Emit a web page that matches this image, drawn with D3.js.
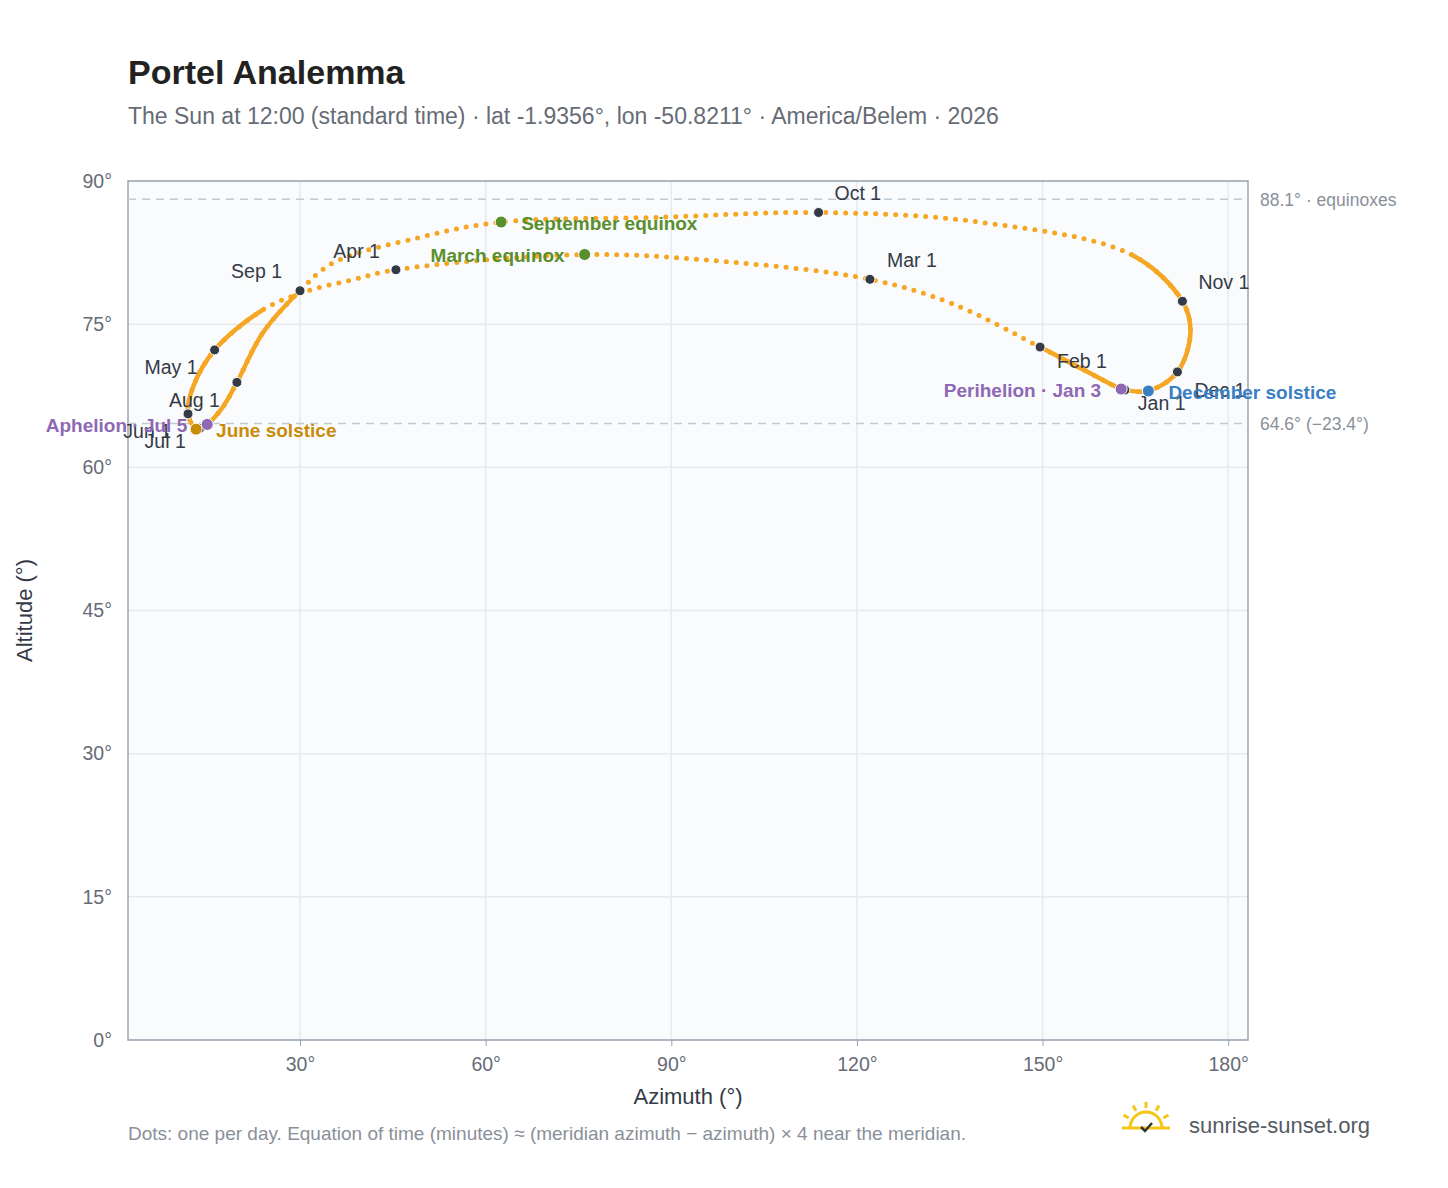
<!DOCTYPE html>
<html><head><meta charset="utf-8">
<script src="https://cdn.jsdelivr.net/npm/d3@7"></script>
<style>body{margin:0;background:#fff;font-family:"Liberation Sans",Arial,sans-serif}</style>
</head><body><svg id="c" width="1448" height="1188"></svg>
<script>
// Sun path, in calendar order
const pathDates = ["Jan 1","Jan 3","Jan 15","Feb 1","Feb 15","Mar 1","Mar 10","Mar 20","Apr 1","Apr 12","Apr 20","Apr 25","May 1","May 15","Jun 1","Jun 21","Jul 1","Jul 5","Jul 15","Aug 1","Aug 15","Sep 1","Sep 10","Sep 16","Sep 22","Sep 26","Oct 1","Oct 10","Oct 20","Nov 1","Nov 15","Dec 1","Dec 21"];
const pathAz  = [163.3,162.7,156.7,149.6,135.2,122.1,99.6,76.0,45.5,38.1,30.8,24.0,16.2,12.7,11.9,13.2,13.8,15.0,17.5,19.8,24.0,30.0,35.3,49.4,62.5,88.3,113.8,139.7,164.3,172.6,173.9,171.8,167.1];
const pathAlt = [68.1,68.2,70.2,72.6,77.2,79.7,81.5,82.3,80.7,79.6,78.4,76.5,72.3,68.4,65.6,64.0,64.1,64.5,66.3,68.9,74.1,78.5,81.4,84.1,85.7,86.2,86.7,85.7,82.3,77.4,74.1,70.0,68.0];
// month markers
const monthNames = ["Jan 1","Feb 1","Mar 1","Apr 1","May 1","Jun 1","Jul 1","Aug 1","Sep 1","Oct 1","Nov 1","Dec 1"];
// events
const eventNames = ["September equinox","March equinox","June solstice","Aphelion · Jul 5","Perihelion · Jan 3","December solstice"];
const eventDates = ["Sep 22","Mar 20","Jun 21","Jul 5","Jan 3","Dec 21"];
const xTicks = [30,60,90,120,150,180];
const yTicks = [0,15,30,45,60,75,90];
const refLines = [88.1,64.6];
const refLabels = ["88.1° · equinoxes","64.6° (−23.4°)"];

const svg = d3.select("#c");
const L=128,R=1248,T=181,B=1040;
const x = d3.scaleLinear().domain([2.2,183.2]).range([L,R]);
const y = d3.scaleLinear().domain([0,90]).range([B,T]);
const idx = d=>pathDates.indexOf(d);
const pt = i=>[x(pathAz[i]),y(pathAlt[i])];

svg.append("rect").attr("x",L).attr("y",T).attr("width",R-L).attr("height",B-T).attr("fill","#f9fbfd");
svg.append("g").selectAll("line").data(xTicks).join("line").attr("x1",d=>x(d)).attr("x2",d=>x(d)).attr("y1",T).attr("y2",B).attr("stroke","#e6eaef").attr("stroke-width",1.5);
svg.append("g").selectAll("line").data(yTicks).join("line").attr("x1",L).attr("x2",R).attr("y1",d=>y(d)).attr("y2",d=>y(d)).attr("stroke","#e6eaef").attr("stroke-width",1.5);
svg.append("rect").attr("x",L).attr("y",T).attr("width",R-L).attr("height",B-T).attr("fill","none").attr("stroke","#9aa5b1").attr("stroke-width",1.5);

const ax = svg.append("g").attr("transform",`translate(0,${B})`).call(d3.axisBottom(x).tickValues(xTicks).tickFormat(d=>d+"°").tickSize(6));
const ay = svg.append("g").attr("transform",`translate(${L},0)`).call(d3.axisLeft(y).tickValues(yTicks).tickFormat(d=>d+"°").tickSize(0).tickPadding(16));
[ax,ay].forEach(a=>{a.select(".domain").remove();a.selectAll("line").attr("stroke","#9aa5b1");a.selectAll("text").attr("fill","#666c75").attr("font-size",19.5).attr("font-family","Liberation Sans, Arial");});
ax.selectAll("text").attr("dy","1.15em");

refLines.forEach((v,i)=>{
  svg.append("line").attr("x1",L).attr("x2",R).attr("y1",y(v)).attr("y2",y(v)).attr("stroke","#c2c9d2").attr("stroke-width",1.5).attr("stroke-dasharray","8,6");
  svg.append("text").attr("x",R+12).attr("y",y(v)+7).text(refLabels[i]).attr("fill","#8a9099").attr("font-size",17.5);
});

const line = d3.line().curve(d3.curveCatmullRomClosed.alpha(0.5));
const all = pathDates.map((d,i)=>pt(i));
const dAttr = line(all);
svg.append("path").attr("d",dAttr).attr("fill","none").attr("stroke","#f5a623").attr("stroke-width",5).attr("stroke-linecap","round").attr("stroke-dasharray","0,10");
// solid overlay where daily dots merge: find path length at data points
const solid = svg.append("path").attr("d",dAttr).attr("fill","none").attr("stroke","#f5a623").attr("stroke-width",4.5);
const node = solid.node(), total = node.getTotalLength();
const lens=[]; let s=0;
all.forEach(p=>{let best=s,bd=1e9;for(let l=s;l<=Math.min(total,s+600);l+=0.5){const q=node.getPointAtLength(l);const dd=(q.x-p[0])**2+(q.y-p[1])**2;if(dd<bd){bd=dd;best=l;}}lens.push(best);s=best;});
lens[0]=0;
const lf=lens[idx("Feb 1")], la=lens[idx("Apr 25")], ls=lens[idx("Sep 1")], lo=lens[idx("Oct 20")];
solid.attr("stroke-dasharray",[lf,la-lf,ls-la,lo-ls,total-lo+1].join(","));

// month markers
const mOff = {"Jan 1":[13,20,"start"],"Feb 1":[17,21,"start"],"Mar 1":[17,-12,"start"],"Apr 1":[-16,-12,"end"],"May 1":[-17,24,"end"],"Jun 1":[-17,24,"end"],"Jul 1":[-14,20,"end"],"Aug 1":[-17,25,"end"],"Sep 1":[-18,-13,"end"],"Oct 1":[16,-12,"start"],"Nov 1":[16,-12,"start"],"Dec 1":[17,25,"start"]};
monthNames.forEach(m=>{const p=pt(idx(m));
  svg.append("circle").attr("cx",p[0]).attr("cy",p[1]).attr("r",5).attr("fill","#343a46").attr("stroke","#fff").attr("stroke-width",1);
  const o=mOff[m];
  svg.append("text").attr("x",p[0]+o[0]).attr("y",p[1]+o[1]).attr("text-anchor",o[2]).text(m).attr("fill","#343a46").attr("font-size",19.5);
});
const eCol = ["#5a8f2e","#5a8f2e","#c98b0a","#8e67b5","#8e67b5","#3a7fc4"];
const eOff = [[20,8,"start"],[-20,8,"end"],[20,8,"start"],[-20,8,"end"],[-20,8,"end"],[20,8,"start"]];
eventNames.forEach((n,i)=>{const p=pt(idx(eventDates[i]));
  svg.append("circle").attr("cx",p[0]).attr("cy",p[1]).attr("r",6).attr("fill",eCol[i]).attr("stroke","#fff").attr("stroke-width",1);
  svg.append("text").attr("x",p[0]+eOff[i][0]).attr("y",p[1]+eOff[i][1]).attr("text-anchor",eOff[i][2]).text(n).attr("fill",eCol[i]).attr("font-size",19).attr("font-weight","bold");
});

svg.append("text").attr("x",128).attr("y",84).text("Portel Analemma").attr("font-size",34).attr("font-weight","bold").attr("fill","#222");
svg.append("text").attr("x",128).attr("y",124).text("The Sun at 12:00 (standard time) · lat -1.9356°, lon -50.8211° · America/Belem · 2026").attr("font-size",23).attr("fill","#666c75");
svg.append("text").attr("x",(L+R)/2).attr("y",1104).attr("text-anchor","middle").text("Azimuth (°)").attr("font-size",22).attr("fill","#343a46");
svg.append("text").attr("transform",`translate(32,${(T+B)/2}) rotate(-90)`).attr("text-anchor","middle").text("Altitude (°)").attr("font-size",22).attr("fill","#343a46");
svg.append("text").attr("x",128).attr("y",1140).text("Dots: one per day. Equation of time (minutes) ≈ (meridian azimuth − azimuth) × 4 near the meridian.").attr("font-size",19).attr("fill","#8a9099");
// logo
const lg=svg.append("g").attr("transform","translate(1146,1128)");
lg.append("path").attr("d","M-16,0 A16,16 0 0 1 16,0").attr("fill","none").attr("stroke","#f5c518").attr("stroke-width",3);
[-60,-30,0,30,60].forEach(a=>{const r=a*Math.PI/180;lg.append("line").attr("x1",Math.sin(r)*20).attr("y1",-Math.cos(r)*20).attr("x2",Math.sin(r)*26).attr("y2",-Math.cos(r)*26).attr("stroke","#f5c518").attr("stroke-width",3);});
lg.append("line").attr("x1",-24).attr("x2",24).attr("y1",0).attr("y2",0).attr("stroke","#f5c518").attr("stroke-width",3);
lg.append("path").attr("d","M-5,-1 L-1,3 L6,-5").attr("fill","none").attr("stroke","#333").attr("stroke-width",2.5);
svg.append("text").attr("x",1189).attr("y",1133).text("sunrise-sunset.org").attr("font-size",22).attr("fill","#555b63");
</script></body></html>
